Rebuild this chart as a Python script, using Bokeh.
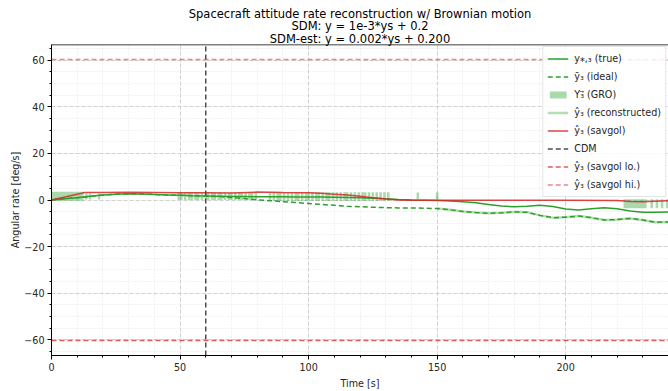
from bokeh.plotting import figure
from bokeh.models import (Range1d, Legend, LegendItem, Span,
                          SingleIntervalTicker, CustomJSTickFormatter, Title)
from bokeh.embed import file_html
from bokeh.resources import INLINE

# ---------------- data ----------------
t_curve = [0, 5, 10, 15, 20, 25, 30, 35, 40, 45, 50, 55, 60, 65, 70, 75, 80,
           85, 90, 95, 100, 105, 110, 115, 120, 125, 130, 135, 140, 145, 150,
           155, 160, 165, 170, 175, 180, 185, 190, 195, 200, 205, 210, 215,
           220, 225, 230, 235, 240]
y_true = [0.0, 0.5, 1.0, 1.6, 2.1, 2.5, 2.7, 2.6, 2.4, 2.2, 2.0, 1.8, 1.7,
          1.6, 1.5, 1.5, 1.4, 1.4, 1.4, 1.3, 1.3, 1.3, 1.2, 1.1, 1.0, 0.8,
          0.5, 0.2, 0.0, -0.1, -0.2, -0.4, -0.7, -1.2, -1.9, -2.6, -2.9,
          -2.7, -2.3, -2.8, -3.9, -4.3, -3.8, -3.3, -3.8, -4.7, -5.3, -5.3,
          -5.1]
y_ideal = [0.0, 0.5, 1.0, 1.6, 2.1, 2.5, 2.7, 2.6, 2.4, 2.2, 2.0, 1.8, 1.7,
           1.5, 1.1, 0.6, 0.1, -0.3, -0.7, -1.1, -1.5, -1.9, -2.3, -2.7,
           -2.9, -3.1, -3.3, -3.4, -3.4, -3.5, -3.7, -4.2, -4.9, -5.4, -5.7,
           -5.5, -5.1, -5.3, -6.6, -7.6, -7.4, -6.9, -7.6, -8.6, -8.4, -7.9,
           -8.6, -9.6, -9.4]

t_recon = [150, 155, 160, 165, 170, 175, 180, 185, 190, 195, 200, 205, 210,
           215, 220, 225, 230, 235, 240]
y_recon = [-3.7, -4.2, -4.9, -5.4, -5.7, -5.5, -5.1, -5.3, -6.6, -7.6, -7.4,
           -6.9, -7.6, -8.6, -8.4, -7.9, -8.6, -9.6, -9.4]

t_savgol = [0, 13, 20, 30, 40, 50, 60, 70, 80, 90, 100, 105, 110, 115, 120,
            125, 130, 135, 140, 150, 200, 220, 225, 230, 235, 240]
y_savgol = [0.0, 3.2, 3.2, 3.3, 3.2, 3.1, 3.1, 3.0, 3.4, 3.2, 3.1, 2.9, 2.5,
            2.1, 1.6, 1.0, 0.4, 0.0, -0.1, -0.1, -0.1, -0.2, -0.6, -0.7,
            -0.5, -0.3]

t_bounds = [0, 240]
y_savgol_lo = [-60.4, -60.4]
y_savgol_hi = [60.4, 60.4]

cdm_time = 60

# GRO intervals: (start, end, low, high)
gro_blocks = [(0.0, 12.5, -0.3, 3.5), (222.5, 231.5, -3.5, 0.3)]
# GRO single samples: (centres, low, high)
gro_samples = [
    ([13.5, 15.0, 18.5], 0.2, 2.8),
    ([49.5, 50.5, 52, 53.5, 54.5, 56, 57, 58.5, 60, 61, 62.5, 63.5, 65, 66,
      67.5, 69, 70, 71.5, 73, 74, 75.5, 77, 78, 79.5], 0.0, 3.2),
    ([85, 86.5, 88, 89, 90.5, 92, 93.5, 95, 96, 97.5, 99, 100, 101.5, 103,
      104, 105.5, 107, 108, 109.5, 111, 112.5, 114, 115, 116.5, 118, 119.5,
      121, 122, 123.5, 125, 126.5, 128, 129.5, 131], -0.4, 3.3),
    ([142.5, 150], 0.3, 3.2),
    ([233.5, 235.5, 237.5, 239.5], -3.5, 0.3),
]
gro_sample_width = 1.0

x_limits = (0, 240)
y_limits = (-66.8, 66.8)

title_lines = ["Spacecraft attitude rate reconstruction w/ Brownian motion",
               "SDM: y = 1e-3*ys + 0.2",
               "SDM-est: y = 0.002*ys + 0.200"]

# ---------------- build GRO quads ----------------
gro_left, gro_right, gro_bottom, gro_top = [], [], [], []
for a, b, lo, hi in gro_blocks:
    gro_left.append(a); gro_right.append(b)
    gro_bottom.append(lo); gro_top.append(hi)
for centres, lo, hi in gro_samples:
    for c in centres:
        gro_left.append(c - gro_sample_width / 2)
        gro_right.append(c + gro_sample_width / 2)
        gro_bottom.append(lo); gro_top.append(hi)

FONT = "DejaVu Sans"
GREEN = "#2ca02c"
RED = "#d62728"
DASH = "5 3"

p = figure(width=668, height=391, output_backend="svg", toolbar_location=None,
           x_range=Range1d(*x_limits), y_range=Range1d(*y_limits),
           min_border_left=51, min_border_right=0, min_border_bottom=35,
           min_border_top=44)
p.background_fill_color = "white"
p.outline_line_color = None
xax = p.below[0]
yax = p.left[0]

# top spine
p.add_layout(Span(location=y_limits[1], dimension="width",
                  line_color="black", line_width=1.5))

# title: one Title per line, each centred (added bottom line first)
p.title.visible = False
for i, line in enumerate(reversed(title_lines)):
    p.add_layout(Title(text=line, align="center", text_font=FONT,
                       text_font_size="11.5px", text_font_style="normal",
                       text_color="black", offset=23,
                       standoff=-2 if i == 0 else -4), "above")

# axes styling
for ax in (xax, yax):
    ax.axis_line_color = "black"
    ax.major_tick_line_color = "black"
    ax.minor_tick_line_color = "black"
    ax.major_tick_in = 0
    ax.major_tick_out = 4
    ax.minor_tick_in = 0
    ax.minor_tick_out = 2
    ax.major_label_text_font = FONT
    ax.major_label_text_font_size = "9.6px"
    ax.major_label_text_color = "#262626"
    ax.axis_label_text_font = FONT
    ax.axis_label_text_font_size = "9.6px"
    ax.axis_label_text_font_style = "normal"
    ax.axis_label_text_color = "#262626"
    ax.major_label_standoff = 3
    ax.axis_label_standoff = 4
yax.axis_label_standoff = 0

xax.ticker = SingleIntervalTicker(interval=50, num_minor_ticks=5)
yax.ticker = SingleIntervalTicker(interval=20, num_minor_ticks=4)
yax.formatter = CustomJSTickFormatter(
    code="return (tick < 0 ? '\u2212' : '') + Math.abs(tick).toFixed(0);")
xax.axis_label = "Time [s]"
yax.axis_label = "Angular rate [deg/s]"

for g in (p.xgrid[0], p.ygrid[0]):
    g.grid_line_color = "#c8c8c8"
    g.grid_line_dash = "4 2"
    g.grid_line_alpha = 0.8
    g.minor_grid_line_color = "#e0e0e0"
    g.minor_grid_line_dash = "1 2"
    g.minor_grid_line_alpha = 0.8
p.xgrid[0].ticker = xax.ticker
p.ygrid[0].ticker = yax.ticker

# ---------------- glyphs ----------------
r_gro = p.quad(left=gro_left, right=gro_right, bottom=gro_bottom, top=gro_top,
               fill_color=GREEN, fill_alpha=0.4, line_color=None)
r_recon = p.line(t_recon, y_recon, line_color=GREEN, line_alpha=0.35,
                 line_width=2.5)
r_true = p.line(t_curve, y_true, line_color=GREEN, line_width=1.5)
r_ideal = p.line(t_curve, y_ideal, line_color=GREEN, line_width=1.5,
                 line_dash=DASH)
r_sg = p.line(t_savgol, y_savgol, line_color=RED, line_width=1.5,
              line_alpha=0.85)
r_cdm = p.line([cdm_time, cdm_time], list(y_limits), line_color="#4d4d4d",
               line_width=1.5, line_dash=DASH)
r_lo = p.line(t_bounds, y_savgol_lo, line_color=RED, line_alpha=0.75,
              line_width=1.5, line_dash=DASH)
r_hi = p.line(t_bounds, y_savgol_hi, line_color=RED, line_alpha=0.55,
              line_width=1.5, line_dash=DASH)

legend = Legend(items=[
    LegendItem(label="y\u204e,\u2083 (true)", renderers=[r_true]),
    LegendItem(label="\u0233\u2083 (ideal)", renderers=[r_ideal]),
    LegendItem(label="Y\u2083\u20d7 (GRO)", renderers=[r_gro]),
    LegendItem(label="\u0177\u2083 (reconstructed)", renderers=[r_recon]),
    LegendItem(label="\u0177\u2083 (savgol)", renderers=[r_sg]),
    LegendItem(label="CDM", renderers=[r_cdm]),
    LegendItem(label="\u0177\u2083 (savgol lo.)", renderers=[r_lo]),
    LegendItem(label="\u0177\u2083 (savgol hi.)", renderers=[r_hi]),
], location="top_right")
legend.margin = 2
legend.padding = 4
legend.spacing = 3
legend.glyph_width = 21
legend.glyph_height = 9
legend.label_height = 15
legend.label_standoff = 6
legend.label_text_font = FONT
legend.label_text_font_size = "9.6px"
legend.label_text_color = "#262626"
legend.border_line_color = "#cccccc"
legend.background_fill_alpha = 0.85
p.add_layout(legend)

open("out.html", "w").write(file_html(p, INLINE))
